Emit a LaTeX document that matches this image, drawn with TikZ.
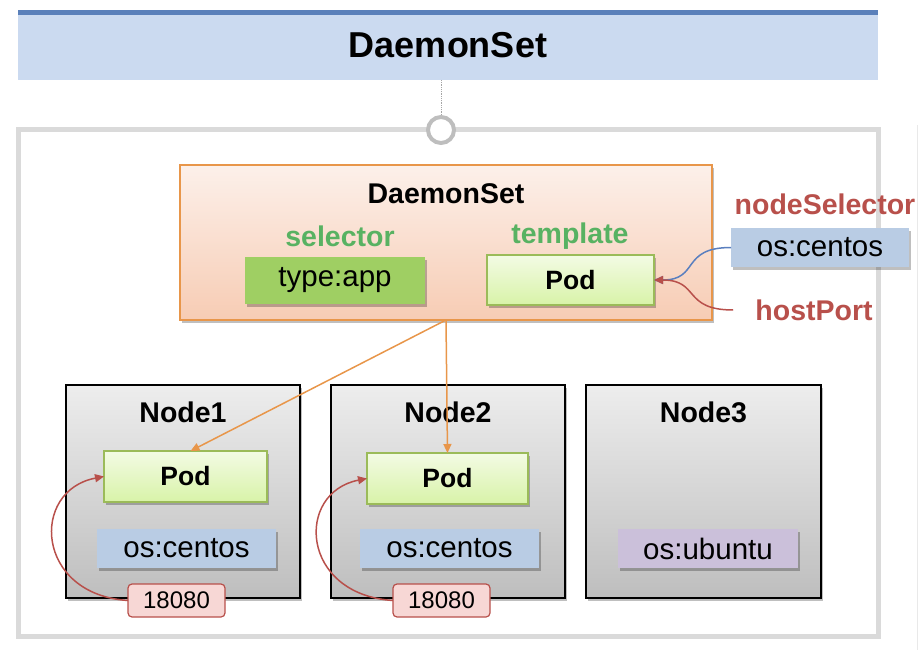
\documentclass[tikz,border=0pt]{standalone}
\usepackage{fontspec}
\setmainfont{Liberation Sans}
\usetikzlibrary{shadows,arrows.meta,calc}
\definecolor{bandfill}{RGB}{203,218,240}
\definecolor{bandline}{RGB}{90,128,186}
\definecolor{framegray}{RGB}{218,218,218}
\definecolor{knobgray}{RGB}{190,190,190}
\definecolor{dsborder}{RGB}{232,150,74}
\definecolor{dstop}{RGB}{252,240,234}
\definecolor{dsbot}{RGB}{247,204,180}
\definecolor{kgreen}{RGB}{88,178,98}
\definecolor{selfill}{RGB}{159,207,99}
\definecolor{podtop}{RGB}{243,251,228}
\definecolor{podbot}{RGB}{216,243,168}
\definecolor{podborder}{RGB}{155,187,89}
\definecolor{osfill}{RGB}{185,204,228}
\definecolor{ubfill}{RGB}{203,192,218}
\definecolor{kred}{RGB}{184,80,75}
\definecolor{portfill}{RGB}{247,215,213}
\definecolor{kblue}{RGB}{90,127,191}
\definecolor{nodetop}{RGB}{237,237,237}
\definecolor{nodebot}{RGB}{190,190,190}
\tikzset{
  shadowed/.style={drop shadow={shadow xshift=2pt,shadow yshift=-3pt,opacity=0.25,fill=black}},
  bigtxt/.style={font=\fontsize{29.5}{34}\selectfont},
  boldtxt/.style={font=\fontsize{28.5}{33}\selectfont\bfseries},
  podtxt/.style={font=\fontsize{26.5}{31}\selectfont\bfseries},
  plain box/.style={inner sep=0pt, outer sep=0pt},
  hostbox/.style={plain box, draw=black, line width=1.5pt, top color=nodetop, bottom color=nodebot, shadowed, minimum height=213pt},
  podbox/.style={plain box, draw=podborder, line width=1.8pt, top color=podtop, bottom color=podbot, shadowed, podtxt, minimum height=51pt},
  labbox/.style={plain box, fill=osfill, shadowed, bigtxt, minimum width=179pt, minimum height=39pt},
  portbox/.style={plain box, draw=kred, line width=1.2pt, fill=portfill, rounded corners=4pt, font=\fontsize{24}{28}\selectfont, minimum width=97pt, minimum height=33pt},
  tip/.style={-{Triangle[length=9pt,width=8pt]}},
}
\begin{document}
\begin{tikzpicture}[x=1pt,y=-1pt]
\useasboundingbox (0,0) rectangle (922,650);
% faint neighbour frame on the right
\draw[framegray!60, line width=1pt] (917,125) -- (917,650);
% title band
\node[plain box, fill=bandfill, minimum width=860pt, minimum height=70pt,
      font=\fontsize{36}{41}\selectfont\bfseries] (title) at (448,45) {DaemonSet};
\fill[bandline] (18,10) rectangle (878,15);
% outer frame
\node[plain box, draw=framegray, line width=5pt, minimum width=860pt, minimum height=506pt] (frame) at (448,383) {};
\node[circle, draw=knobgray, line width=4pt, fill=white, minimum size=26pt, inner sep=0pt] (knob) at (441,130) {};
\draw[gray!70, densely dotted, line width=0.8pt] (knob |- title.south) -- (knob.north);
% DaemonSet controller
\node[plain box, draw=dsborder, line width=1.5pt, top color=dstop, bottom color=dsbot, shadowed,
      minimum width=532pt, minimum height=155pt] (ds) at (446,242.5) {};
\node[boldtxt] (dstitle) at (446,194) {DaemonSet};
\node[boldtxt, text=kgreen] (seltxt) at (340,236) {selector};
\node[boldtxt, text=kgreen] (tpltxt) at (570,236) {template};
\node[plain box, fill=selfill, shadowed, bigtxt, minimum width=180pt, minimum height=47pt] (sel) at (335,280.5) {type:app};
\node[podbox, minimum width=167pt, minimum height=50pt] (podt) at (570.5,280) {Pod};
% nodeSelector and hostPort
\node[boldtxt, text=kred] (nstxt) at (825,204) {nodeSelector};
\node[labbox, minimum width=178pt] (selos) at (820,247.5) {os:centos};
\node[boldtxt, text=kred, inner xsep=0pt] (hp) at (814,310) {hostPort};
\draw[kblue, line width=1.5pt, tip] (selos.west) .. controls +(-51,0) and +(46,0) .. (podt.east);
\draw[kred, line width=1.5pt, tip] ([xshift=-22pt]hp.west) .. controls +(-51,0) and +(46,0) .. (podt.east);
% hosts
\node[hostbox, minimum width=234pt] (n1) at (183,491.5) {};
\node[hostbox, minimum width=234pt] (n2) at (448,491.5) {};
\node[hostbox, minimum width=235pt] (n3) at (703.5,491.5) {};
\node[boldtxt] (n1t) at (183,412) {Node1};
\node[boldtxt] (n2t) at (448,412) {Node2};
\node[boldtxt] (n3t) at (703.5,412) {Node3};
\node[podbox, minimum width=163pt] (pod1) at (185.5,476.5) {Pod};
\node[podbox, minimum width=161pt] (pod2) at (447.5,478.5) {Pod};
\node[labbox] (os1) at (186.5,548.5) {os:centos};
\node[labbox] (os2) at (449.5,548.5) {os:centos};
\node[labbox, fill=ubfill, minimum width=180pt] (os3) at (708,548.5) {os:ubuntu};
\node[portbox] (port1) at (176.5,600.5) {18080};
\node[portbox] (port2) at (441.5,600.5) {18080};
\draw[kred, line width=1.5pt, tip] (port1.west) .. controls +(-93,-6) and +(-74,14) .. (pod1.west);
\draw[kred, line width=1.5pt, tip] (port2.west) .. controls +(-93,-6) and +(-72,14) .. (pod2.west);
% controller to pods
\draw[dsborder, line width=1.5pt, tip] (ds.south) -- ([xshift=5pt]pod1.north);
\draw[dsborder, line width=1.5pt, tip] (ds.south) -- (pod2.north);
\end{tikzpicture}
\end{document}
